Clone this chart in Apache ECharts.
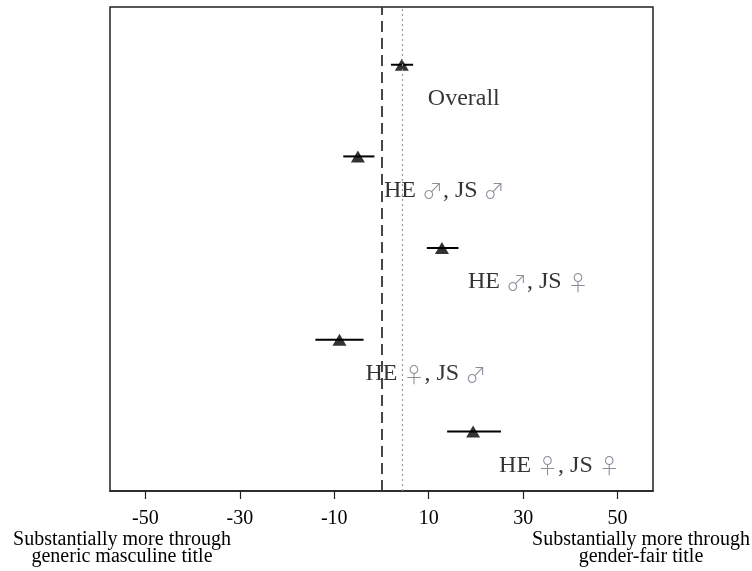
<!DOCTYPE html>
<html>
<head>
<meta charset="utf-8">
<script src="https://cdn.jsdelivr.net/npm/echarts@6/dist/echarts.min.js"></script>
<style>
  html, body { margin: 0; padding: 0; background: #fff; }
  #chart { width: 752px; height: 571px; }
</style>
</head>
<body>
<div id="chart"></div>
<script>
// group labels, top to bottom
const groups = ['Overall', 'HE ♂, JS ♂', 'HE ♂, JS ♀', 'HE ♀, JS ♂', 'HE ♀, JS ♀'];
const rows = [5, 4, 3, 2, 1];
const estimates = [4.3, -5.0, 12.8, -8.9, 19.4];
const lower = [2.0, -8.1, 9.6, -14.0, 13.9];
const upper = [6.7, -1.5, 16.3, -3.8, 25.3];
const xTicks = [-50, -30, -10, 10, 30, 50];
const overallMean = 4.3;

// wrap the gender symbols so they get their own style
function richLabel(name) {
  return name.replace(/([♂♀])/g, '{s|$1}');
}

const pointData = estimates.map((v, i) => ({ value: [v, rows[i]], name: groups[i] }));
const ciData = estimates.map((v, i) => [lower[i], upper[i], rows[i]]);

const chart = echarts.init(document.getElementById('chart'));
chart.setOption({
  animation: false,
  textStyle: { fontFamily: 'Liberation Serif' },
  grid: { left: 110, right: 99, top: 7, bottom: 80, show: true, borderColor: '#222', borderWidth: 1.5 },
  xAxis: {
    type: 'value',
    min: -57.5,
    max: 57.5,
    splitLine: { show: false },
    axisLine: { show: true, onZero: false, lineStyle: { color: '#222', width: 1.5 } },
    axisTick: { show: true, customValues: xTicks, length: 8, lineStyle: { color: '#222', width: 1.2 } },
    axisLabel: { customValues: xTicks, color: '#000', fontSize: 20, margin: 18, fontFamily: 'Liberation Serif' }
  },
  yAxis: {
    type: 'value',
    min: 0.35,
    max: 5.63,
    show: false,
    splitLine: { show: false }
  },
  graphic: [
    {
      type: 'text', x: 122, y: 531,
      style: { text: 'Substantially more through\ngeneric masculine title', align: 'center', textAlign: 'center', font: '20px "Liberation Serif"', fill: '#000', lineHeight: 17 }
    },
    {
      type: 'text', x: 641, y: 531,
      style: { text: 'Substantially more through\ngender-fair title', align: 'center', textAlign: 'center', font: '20px "Liberation Serif"', fill: '#000', lineHeight: 17 }
    }
  ],
  series: [
    {
      type: 'custom',
      data: ciData,
      renderItem: function (params, api) {
        const a = api.coord([api.value(0), api.value(2)]);
        const b = api.coord([api.value(1), api.value(2)]);
        return {
          type: 'line',
          shape: { x1: a[0], y1: a[1], x2: b[0], y2: b[1] },
          style: { stroke: '#000', lineWidth: 2 }
        };
      },
      z: 3
    },
    {
      type: 'scatter',
      data: pointData,
      symbol: 'triangle',
      symbolSize: [14, 12],
      itemStyle: { color: '#000' },
      z: 4,
      label: {
        show: true,
        position: [33, 40],
        align: 'left',
        verticalAlign: 'middle',
        formatter: p => richLabel(p.name),
        color: '#000',
        fontSize: 24,
        fontFamily: 'Liberation Serif',
        rich: {
          s: { fontSize: 21, color: '#6b7280', fontFamily: 'Noto Sans CJK SC', fontWeight: 300 }
        }
      },
      markLine: {
        silent: true,
        symbol: 'none',
        label: { show: false },
        data: [
          { xAxis: 0, lineStyle: { type: [11, 6], color: '#333', width: 1.8 } },
          { xAxis: overallMean, lineStyle: { type: [2, 3], color: '#999', width: 1.2 } }
        ]
      }
    }
  ]
});
</script>
</body>
</html>
